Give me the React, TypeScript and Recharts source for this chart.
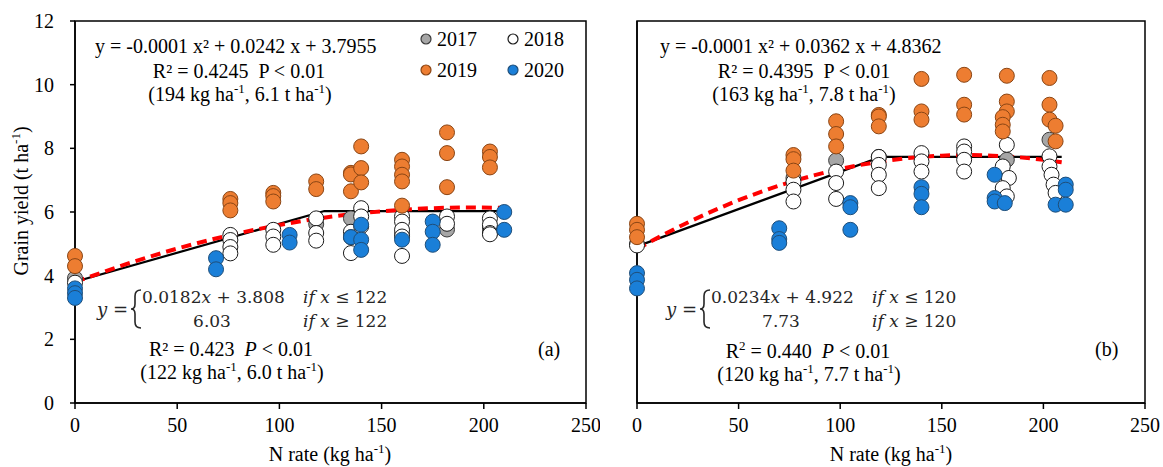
import React from 'react';
import { ComposedChart, Scatter, Line, XAxis, YAxis, ReferenceArea } from 'recharts';

const serif = "'Liberation Serif', 'Times New Roman', serif";
const mathFont = "'DejaVu Serif', serif";

const xTicks = [0, 50, 100, 150, 200, 250];
const yTicks = [0, 2, 4, 6, 8, 10, 12];
const years = ['2017', '2018', '2019', '2020'];

// panel (a): [N rate, grain yield]
const a2017 = [[0, 3.92], [118, 5.62], [135, 5.8], [160, 5.3], [182, 5.45], [203, 5.5]];
const a2018 = [
    [0, 3.78], [76, 5.28], [76, 5.12], [76, 4.9], [76, 4.7], [97, 5.44], [97, 5.23], [97, 4.97],
    [118, 5.8], [118, 5.34], [118, 5.1], [135, 5.38], [135, 5.21], [135, 4.71], [140, 6.12], [140, 5.86],
    [140, 5.55], [160, 5.86], [160, 5.7], [160, 5.44], [160, 5.23], [160, 4.62], [182, 5.86], [182, 5.63],
    [203, 5.8], [203, 5.6], [203, 5.34], [203, 5.3]
];
const a2019 = [
    [0, 4.62], [0, 4.3], [76, 6.41], [76, 6.28], [76, 6.05], [97, 6.6], [97, 6.5], [97, 6.33],
    [118, 6.96], [118, 6.72], [135, 7.23], [135, 7.18], [135, 6.65], [140, 8.06], [140, 7.38], [140, 6.93],
    [160, 7.64], [160, 7.43], [160, 7.17], [160, 6.96], [160, 6.2], [182, 8.5], [182, 7.85], [182, 6.78],
    [203, 7.9], [203, 7.73], [203, 7.4]
];
const a2020 = [
    [0, 3.6], [0, 3.45], [0, 3.3], [69, 4.55], [69, 4.2], [105, 5.28], [105, 5.04], [135, 5.21],
    [140, 5.6], [140, 5.13], [140, 4.81], [160, 5.13], [175, 5.7], [175, 5.38], [175, 4.97], [210, 6.0], [210, 5.44]
];
const aQuadratic = [[0, 3.8], [25, 4.36], [50, 4.85], [75, 5.26], [100, 5.59], [125, 5.85], [150, 6.02], [175, 6.12], [194, 6.14], [210, 6.13]];
const aPlateau = [[0, 3.81], [122, 6.03], [210, 6.03]];

// panel (b)
const b2017 = [[0, 5.0], [77, 7.07], [98, 7.62], [119, 7.73], [182, 7.64], [203, 8.27]];
const b2018 = [
    [0, 4.95], [77, 6.95], [77, 6.7], [77, 6.33], [98, 7.27], [98, 6.91], [98, 6.41], [119, 7.73],
    [119, 7.48], [119, 7.17], [119, 6.75], [140, 7.85], [140, 7.59], [140, 7.27], [161, 8.06], [161, 7.9],
    [161, 7.64], [161, 7.27], [182, 8.11], [180, 7.43], [183, 7.07], [180, 6.75], [182, 6.49], [203, 7.75],
    [203, 7.43], [204, 7.17], [205, 6.86], [206, 6.6]
];
const b2019 = [
    [0, 5.63], [0, 5.44], [0, 5.21], [77, 7.79], [77, 7.66], [77, 7.3], [98, 8.85], [98, 8.45], [98, 8.06],
    [119, 9.05], [119, 9.0], [119, 8.69], [140, 10.18], [140, 9.16], [140, 8.9], [161, 10.31], [161, 9.37],
    [161, 9.06], [182, 10.28], [182, 9.47], [182, 9.16], [180, 8.98], [180, 8.74], [180, 8.53], [203, 10.21],
    [203, 9.37], [203, 8.9], [206, 8.71], [206, 8.22]
];
const b2020 = [
    [0, 4.08], [0, 3.87], [0, 3.6], [70, 5.49], [70, 5.15], [70, 5.03], [105, 6.28], [105, 6.15], [105, 5.44],
    [140, 6.78], [140, 6.57], [140, 6.15], [176, 7.17], [176, 6.44], [176, 6.33], [181, 6.28], [206, 6.23],
    [211, 6.86], [211, 6.7], [211, 6.23]
];
const bQuadratic = [[0, 4.84], [25, 5.67], [50, 6.37], [75, 6.93], [100, 7.35], [125, 7.63], [150, 7.77], [163, 7.79], [175, 7.77], [200, 7.64], [209, 7.56]];
const bPlateau = [[0, 4.92], [120, 7.73], [209, 7.73]];

const markerStyle: Record<string, { fill: string; stroke: string }> = {
    '2017': { fill: '#a6a6a6', stroke: '#3a3a3a' },
    '2018': { fill: '#ffffff', stroke: '#1a1a1a' },
    '2019': { fill: '#ed7d31', stroke: '#8a4514' },
    '2020': { fill: '#1a7fd8', stroke: '#1f4e79' }
};

const toPts = (rows: number[][]) => rows.map(([n, y]) => ({ n, y }));

const dotShape = (year: string) => (props: any) => (
    <circle
        cx={props.cx}
        cy={props.cy}
        r={7.5}
        fill={markerStyle[year].fill}
        stroke={markerStyle[year].stroke}
        strokeWidth={1}
    />
);

// recharts' Text drops the font family here, so draw the tick labels ourselves
const XTick = (props: any) => (
    <text x={props.x} y={props.y} dy="0.71em" textAnchor="middle" fill="#000" fontSize={20} fontFamily={serif}>
        {props.payload.value}
    </text>
);
const YTick = (props: any) => (
    <text x={props.x} y={props.y} dy="0.355em" textAnchor="end" fill="#000" fontSize={20} fontFamily={serif}>
        {props.payload.value}
    </text>
);

interface PanelProps {
    left: number;
    width: number;
    yAxisWidth: number;
    marginRight: number;
    showYLabels: boolean;
    obs: number[][][];
    quadratic: number[][];
    plateau: number[][];
}

const Panel: React.FC<PanelProps> = ({ left, width, yAxisWidth, marginRight, showYLabels, obs, quadratic, plateau }) => (
    <div style={{ position: 'absolute', left, top: 0 }}>
        <ComposedChart width={width} height={467} margin={{ top: 21, right: marginRight, bottom: 0, left: 0 }}>
            <XAxis
                type="number"
                dataKey="n"
                domain={[0, 250]}
                ticks={xTicks}
                height={64}
                tickSize={6}
                tickMargin={9}
                axisLine={{ stroke: '#000', strokeWidth: 1.5 }}
                tickLine={{ stroke: '#000', strokeWidth: 1.5 }}
                tick={XTick}
            />
            <YAxis
                type="number"
                dataKey="y"
                domain={[0, 12]}
                ticks={yTicks}
                width={yAxisWidth}
                tickSize={5}
                tickMargin={16}
                axisLine={{ stroke: '#000', strokeWidth: 1.5 }}
                tickLine={{ stroke: '#000', strokeWidth: 1.5 }}
                tick={showYLabels ? YTick : false}
            />
            <ReferenceArea x1={0} x2={250} y1={0} y2={12} fill="none" stroke="#000" strokeWidth={1.5} />
            {obs.map((rows, i) => (
                <Scatter
                    key={years[i]}
                    name={years[i]}
                    data={toPts(rows)}
                    shape={dotShape(years[i])}
                    isAnimationActive={false}
                />
            ))}
            <Line
                data={toPts(plateau)}
                dataKey="y"
                type="linear"
                stroke="#000"
                strokeWidth={2.2}
                dot={false}
                activeDot={false}
                isAnimationActive={false}
            />
            <Line
                data={toPts(quadratic)}
                dataKey="y"
                type="monotone"
                stroke="#ff0000"
                strokeWidth={4}
                strokeDasharray="10 6"
                dot={false}
                activeDot={false}
                isAnimationActive={false}
            />
        </ComposedChart>
    </div>
);

const SP = '\u00a0\u00a0';

const OptLine: React.FC<{ x: number; y: number; rate: string; yld: string }> = ({ x, y, rate, yld }) => (
    <text x={x} y={y} textAnchor="middle">
        <tspan>({rate} kg ha</tspan>
        <tspan dy={-8} fontSize={13}>-1</tspan>
        <tspan dy={8}>, {yld} t ha</tspan>
        <tspan dy={-8} fontSize={13}>-1</tspan>
        <tspan dy={8}>)</tspan>
    </text>
);

const Piecewise: React.FC<{ x: number; slope: string; icpt: string; plateau: string; join: string }> = ({ x, slope, icpt, plateau, join }) => (
    <g fill="#262626" fontFamily={mathFont} fontSize={17}>
        <text x={x} y={316} fontSize={18}>
            <tspan fontStyle="italic">y</tspan> =
        </text>
        <path
            d={`M${x + 44},290 Q${x + 38},290 ${x + 38},296 L${x + 38},304 Q${x + 38},309 ${x + 34},309 Q${x + 38},309 ${x + 38},314 L${x + 38},322 Q${x + 38},328 ${x + 44},328`}
            fill="none"
            stroke="#262626"
            strokeWidth={1.6}
        />
        <text x={x + 45} y={303}>
            {slope}<tspan fontStyle="italic">x</tspan> + {icpt}
        </text>
        <text x={x + 115} y={327} textAnchor="middle">{plateau}</text>
        <text x={x + 206} y={303}>
            <tspan fontStyle="italic">if x</tspan> ≤ {join}
        </text>
        <text x={x + 206} y={327}>
            <tspan fontStyle="italic">if x</tspan> ≥ {join}
        </text>
    </g>
);

const LegendItem: React.FC<{ cx: number; cy: number; year: string }> = ({ cx, cy, year }) => (
    <g>
        <circle cx={cx} cy={cy} r={5} fill={markerStyle[year].fill} stroke={markerStyle[year].stroke} strokeWidth={1.2} />
        <text x={cx + 11} y={cy + 7}>{year}</text>
    </g>
);

export default function App() {
    return (
        <div style={{ position: 'absolute', left: 0, top: 0, width: 1163, height: 467, background: '#fff' }}>
            <Panel
                left={0}
                width={600}
                yAxisWidth={75}
                marginRight={14}
                showYLabels
                obs={[a2017, a2018, a2019, a2020]}
                quadratic={aQuadratic}
                plateau={aPlateau}
            />
            <Panel
                left={600}
                width={563}
                yAxisWidth={37}
                marginRight={18}
                showYLabels={false}
                obs={[b2017, b2018, b2019, b2020]}
                quadratic={bQuadratic}
                plateau={bPlateau}
            />
            <svg
                width={1163}
                height={467}
                style={{ position: 'absolute', left: 0, top: 0, pointerEvents: 'none' }}
                fontFamily={serif}
                fontSize={20}
                fill="#000"
            >
                {/* axis titles */}
                <text transform="translate(28,201) rotate(-90)" textAnchor="middle">
                    <tspan>Grain yield (t ha</tspan>
                    <tspan dy={-8} fontSize={13}>-1</tspan>
                    <tspan dy={8}>)</tspan>
                </text>
                {[330, 891].map((cx) => (
                    <text key={cx} x={cx} y={461} textAnchor="middle">
                        <tspan>N rate (kg ha</tspan>
                        <tspan dy={-8} fontSize={13}>-1</tspan>
                        <tspan dy={8}>)</tspan>
                    </text>
                ))}

                {/* panel (a) */}
                <text x={95} y={53}>y = -0.0001 x² + 0.0242 x + 3.7955</text>
                <text x={239} y={78} textAnchor="middle">{`R² = 0.4245${SP}P < 0.01`}</text>
                <OptLine x={240} y={101} rate="194" yld="6.1" />
                <LegendItem cx={426} cy={39} year="2017" />
                <LegendItem cx={513} cy={39} year="2018" />
                <LegendItem cx={426} cy={70} year="2019" />
                <LegendItem cx={513} cy={70} year="2020" />
                <Piecewise x={97} slope="0.0182" icpt="3.808" plateau="6.03" join="122" />
                <text x={231} y={356} textAnchor="middle">
                    {`R² = 0.423${SP}`}<tspan fontStyle="italic">P</tspan> &lt; 0.01
                </text>
                <OptLine x={232} y={379} rate="122" yld="6.0" />
                <text x={538} y={356}>(a)</text>

                {/* panel (b) */}
                <text x={660} y={53}>y = -0.0001 x² + 0.0362 x + 4.8362</text>
                <text x={804} y={78} textAnchor="middle">{`R² = 0.4395${SP}P < 0.01`}</text>
                <OptLine x={804} y={101} rate="163" yld="7.8" />
                <Piecewise x={666} slope="0.0234" icpt="4.922" plateau="7.73" join="120" />
                <text x={808} y={358} textAnchor="middle">
                    R<tspan dy={-8} fontSize={13}>2</tspan><tspan dy={8}>{` = 0.440${SP}`}</tspan>
                    <tspan fontStyle="italic">P</tspan> &lt; 0.01
                </text>
                <OptLine x={809} y={381} rate="120" yld="7.7" />
                <text x={1095} y={356}>(b)</text>
            </svg>
        </div>
    );
}
